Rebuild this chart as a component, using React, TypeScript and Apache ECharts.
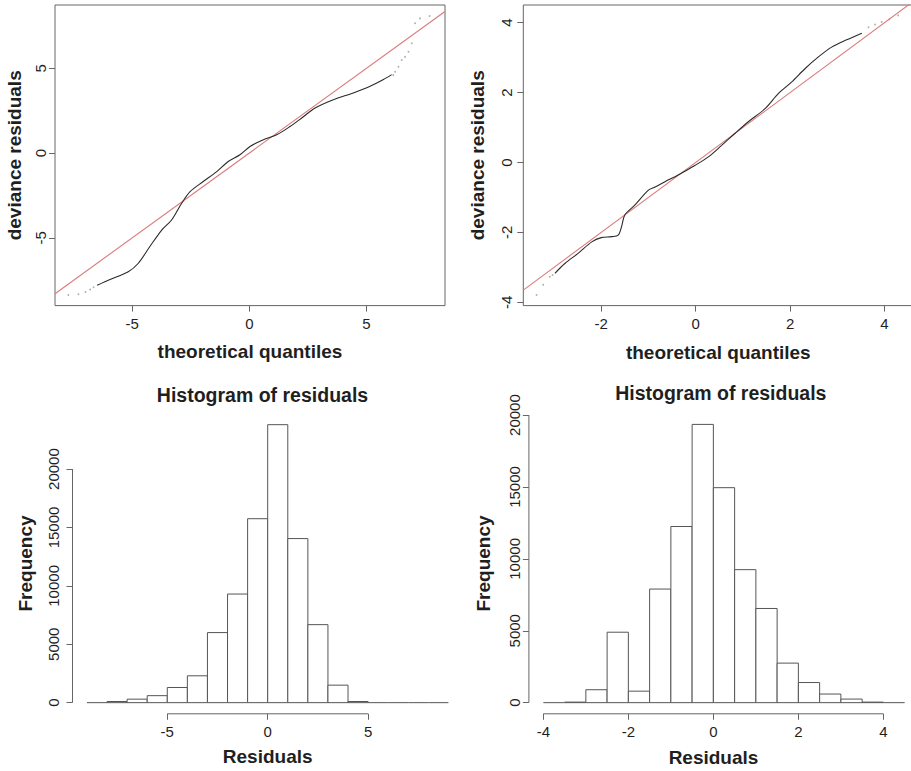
import React, { useEffect, useRef } from "react";
import * as echarts from "echarts";

const FONT = '"Liberation Sans", Arial, Helvetica, sans-serif';

// ---- Top-left QQ plot ----
const tlCurveX = [-6.5, -5.95, -5.17, -4.74, -4.24, -3.74, -3.32, -2.89, -2.53, -1.97, -1.39, -0.9, -0.4, 0.03, 0.6, 1.17, 1.74, 2.24, 2.81, 3.59, 4.44, 5.16, 5.73, 6.08];
const tlCurveY = [-7.8, -7.46, -7.0, -6.5, -5.5, -4.54, -3.95, -2.96, -2.27, -1.68, -1.09, -0.5, -0.1, 0.39, 0.79, 1.08, 1.57, 2.07, 2.66, 3.15, 3.55, 3.94, 4.34, 4.63];
const tlTailX = [-7.73, -7.3, -7.0, -6.8, -6.65, 6.15, 6.23, 6.37, 6.51, 6.65, 6.8, 6.94, 7.08, 7.29, 7.7];
const tlTailY = [-8.38, -8.33, -8.2, -8.05, -7.92, 4.6, 4.8, 5.1, 5.49, 5.68, 5.98, 6.48, 7.66, 7.95, 8.09];
const tlTicksX = [-5, 0, 5];
const tlTicksY = [-5, 0, 5];

// ---- Top-right QQ plot ----
const trCurveX = [-2.98, -2.77, -2.49, -2.2, -2.0, -1.78, -1.64, -1.57, -1.5, -1.29, -1.0, -0.86, -0.65, -0.37, -0.01, 0.27, 0.55, 0.83, 1.11, 1.47, 1.75, 2.03, 2.32, 2.6, 2.88, 3.2, 3.52];
const trCurveY = [-3.17, -2.89, -2.6, -2.27, -2.15, -2.12, -2.08, -1.84, -1.5, -1.22, -0.79, -0.7, -0.55, -0.36, -0.08, 0.16, 0.49, 0.83, 1.16, 1.54, 1.97, 2.3, 2.69, 3.02, 3.3, 3.51, 3.7];
const trTailX = [-3.37, -3.23, -3.09, -3.03, 3.66, 3.8, 3.94, 4.1, 4.29];
const trTailY = [-3.79, -3.5, -3.27, -3.22, 3.87, 3.95, 4.02, 4.1, 4.21];
const trTicksX = [-2, 0, 2, 4];
const trTicksY = [-4, -2, 0, 2, 4];

// ---- Bottom-left histogram ----
const blEdges = [-9, -8, -7, -6, -5, -4, -3, -2, -1, 0, 1, 2, 3, 4, 5, 6, 7, 8, 9];
const blCounts = [0, 100, 300, 600, 1300, 2300, 6000, 9300, 15750, 23800, 14050, 6680, 1500, 100, 0, 0, 0, 0];
const blTicksX = [-5, 0, 5];
const blTicksY = [0, 5000, 10000, 15000, 20000];

// ---- Bottom-right histogram ----
const brEdges = [-4, -3.5, -3, -2.5, -2, -1.5, -1, -0.5, 0, 0.5, 1, 1.5, 2, 2.5, 3, 3.5, 4, 4.5];
const brCounts = [0, 40, 900, 4900, 800, 7900, 12250, 19350, 14950, 9250, 6550, 2750, 1400, 600, 250, 40, 0];
const brTicksX = [-4, -2, 0, 2, 4];
const brTicksY = [0, 5000, 10000, 15000, 20000];

const zip = (xs: number[], ys: number[]) => xs.map((x, i) => [x, ys[i]]);
const bins = (edges: number[], counts: number[]) => counts.map((c, i) => [edges[i], edges[i + 1], c]);

const AXIS_COLOR = "#666";
const TEXT_COLOR = "#1f1f1f";

function histRender(params: any, api: any) {
  const x0 = api.value(0);
  const x1 = api.value(1);
  const c = api.value(2);
  const a = api.coord([x0, c]);
  const b = api.coord([x1, 0]);
  if (c === 0) {
    return {
      type: "line",
      shape: { x1: a[0], y1: b[1], x2: b[0], y2: b[1] },
      style: { stroke: "#555", lineWidth: 1 },
    };
  }
  return {
    type: "rect",
    shape: { x: a[0], y: a[1], width: b[0] - a[0], height: b[1] - a[1] },
    style: { fill: "#fff", stroke: "#555", lineWidth: 1 },
  };
}

const fmt = (v: number) => String(v);

function xAxisCfg(gi: number, min: number, max: number, ticks: number[], name: string, nameGap: number, margin: number, namePad?: number[]) {
  return {
    gridIndex: gi,
    type: "value",
    min,
    max,
    axisLine: { show: false, onZero: false },
    splitLine: { show: false },
    axisTick: { show: true, customValues: ticks, length: 6, lineStyle: { color: AXIS_COLOR } },
    axisLabel: { customValues: ticks, margin, fontSize: 15, color: TEXT_COLOR, fontFamily: FONT, formatter: fmt },
    name,
    nameLocation: "middle",
    nameGap,
    nameTextStyle: { fontSize: 19, fontWeight: "bold", color: TEXT_COLOR, fontFamily: FONT, padding: namePad || 0 },
  };
}

function yAxisCfg(gi: number, min: number, max: number, ticks: number[], name: string, nameGap: number, margin: number, namePad?: number[]) {
  return {
    gridIndex: gi,
    type: "value",
    min,
    max,
    axisLine: { show: false, onZero: false },
    splitLine: { show: false },
    axisTick: { show: true, customValues: ticks, length: 6, lineStyle: { color: AXIS_COLOR } },
    axisLabel: { customValues: ticks, margin, rotate: 90, fontSize: 15, color: TEXT_COLOR, fontFamily: FONT, formatter: fmt },
    name,
    nameLocation: "middle",
    nameGap,
    nameTextStyle: { fontSize: 19, fontWeight: "bold", color: TEXT_COLOR, fontFamily: FONT, padding: namePad || 0 },
  };
}

const TL = { xMin: -8.3, xMax: 8.36, yMin: -9.0, yMax: 8.74 };
const TR = { xMin: -3.65, xMax: 4.61, yMin: -4.094, yMax: 4.506 };
const BL = { xMin: -9.72, xMax: 9.72, yMin: -953, yMax: 24783 };
const BR = { xMin: -4.34, xMax: 4.84, yMin: -774, yMax: 20129 };

function qqSeries(gi: number, cx: number[], cy: number[], tx: number[], ty: number[], lim: any) {
  return [
    {
      type: "line",
      xAxisIndex: gi,
      yAxisIndex: gi,
      data: zip(cx, cy),
      showSymbol: false,
      symbol: "none",
      smooth: 0.3,
      lineStyle: { color: "#2a2a2a", width: 1.1 },
      silent: true,
      z: 3,
    },
    {
      type: "scatter",
      xAxisIndex: gi,
      yAxisIndex: gi,
      data: zip(tx, ty),
      symbolSize: 1.8,
      itemStyle: { color: "#9a9a9a" },
      silent: true,
      z: 3,
    },
    {
      type: "line",
      xAxisIndex: gi,
      yAxisIndex: gi,
      data: [
        [lim.xMin, lim.xMin],
        [lim.xMax, lim.xMax],
      ],
      showSymbol: false,
      symbol: "none",
      lineStyle: { color: "#dc7a7a", width: 1.1 },
      silent: true,
      z: 2,
    },
  ];
}

function histSeries(gi: number, edges: number[], counts: number[], ticksX: number[], ticksY: number[], lim: any) {
  return [
    {
      type: "custom",
      xAxisIndex: gi,
      yAxisIndex: gi,
      data: bins(edges, counts),
      encode: { x: [0, 1], y: 2 },
      renderItem: histRender,
      silent: true,
      clip: false,
    },
    {
      type: "line",
      xAxisIndex: gi,
      yAxisIndex: gi,
      data: [
        [ticksX[0], lim.yMin],
        [ticksX[ticksX.length - 1], lim.yMin],
      ],
      symbol: "none",
      showSymbol: false,
      lineStyle: { color: AXIS_COLOR, width: 1 },
      silent: true,
      clip: false,
    },
    {
      type: "line",
      xAxisIndex: gi,
      yAxisIndex: gi,
      data: [
        [lim.xMin, ticksY[0]],
        [lim.xMin, ticksY[ticksY.length - 1]],
      ],
      symbol: "none",
      showSymbol: false,
      lineStyle: { color: AXIS_COLOR, width: 1 },
      silent: true,
      clip: false,
    },
  ];
}

export default function App() {
  const ref = useRef<HTMLDivElement>(null);

  useEffect(() => {
    if (!ref.current) return;
    const chart = echarts.init(ref.current, undefined, { renderer: "svg" });
    const gridBase = { show: false, outerBoundsMode: "none", containLabel: false };
    const option: any = {
      animation: false,
      backgroundColor: "#ffffff",
      textStyle: { fontFamily: FONT },
      grid: [
        { ...gridBase, left: 55, top: 5, width: 390, height: 300.6, show: true, borderColor: AXIS_COLOR, borderWidth: 1, backgroundColor: "transparent" },
        { ...gridBase, left: 523.3, top: 5, width: 390, height: 300.6, show: true, borderColor: AXIS_COLOR, borderWidth: 1, backgroundColor: "transparent" },
        { ...gridBase, left: 72.5, top: 413.2, width: 390.4, height: 300.6 },
        { ...gridBase, left: 528.9, top: 413.2, width: 390.2, height: 300.6 },
      ],
      xAxis: [
        xAxisCfg(0, TL.xMin, TL.xMax, tlTicksX, "theoretical quantiles", 36, 10),
        xAxisCfg(1, TR.xMin, TR.xMax, trTicksX, "theoretical quantiles", 37, 10),
        xAxisCfg(2, BL.xMin, BL.xMax, blTicksX, "Residuals", 33, 10),
        xAxisCfg(3, BR.xMin, BR.xMax, brTicksX, "Residuals", 34, 10, [0, 21, 0, 0]),
      ],
      yAxis: [
        yAxisCfg(0, TL.yMin, TL.yMax, tlTicksY, "deviance residuals", 31, 7.5),
        yAxisCfg(1, TR.yMin, TR.yMax, trTicksY, "deviance residuals", 36, 9),
        yAxisCfg(2, BL.yMin, BL.yMax, blTicksY, "Frequency", 38, 11.5),
        yAxisCfg(3, BR.yMin, BR.yMax, brTicksY, "Frequency", 36, 6.5),
      ],
      graphic: [
        {
          type: "text",
          x: 262.5,
          y: 395,
          silent: true,
          style: { text: "Histogram of residuals", fontSize: 19.5, fontWeight: "bold", fontFamily: FONT, fill: TEXT_COLOR, align: "center", verticalAlign: "middle" },
        },
        {
          type: "text",
          x: 720.8,
          y: 393.3,
          silent: true,
          style: { text: "Histogram of residuals", fontSize: 19.5, fontWeight: "bold", fontFamily: FONT, fill: TEXT_COLOR, align: "center", verticalAlign: "middle" },
        },
      ],
      series: [
        ...qqSeries(0, tlCurveX, tlCurveY, tlTailX, tlTailY, TL),
        ...qqSeries(1, trCurveX, trCurveY, trTailX, trTailY, TR),
        ...histSeries(2, blEdges, blCounts, blTicksX, blTicksY, BL),
        ...histSeries(3, brEdges, brCounts, brTicksX, brTicksY, BR),
      ],
    };
    chart.setOption(option);
    return () => chart.dispose();
  }, []);

  return (
    <div
      ref={ref}
      style={{ position: "fixed", left: 0, top: 0, width: 911, height: 771, background: "#fff" }}
    />
  );
}
